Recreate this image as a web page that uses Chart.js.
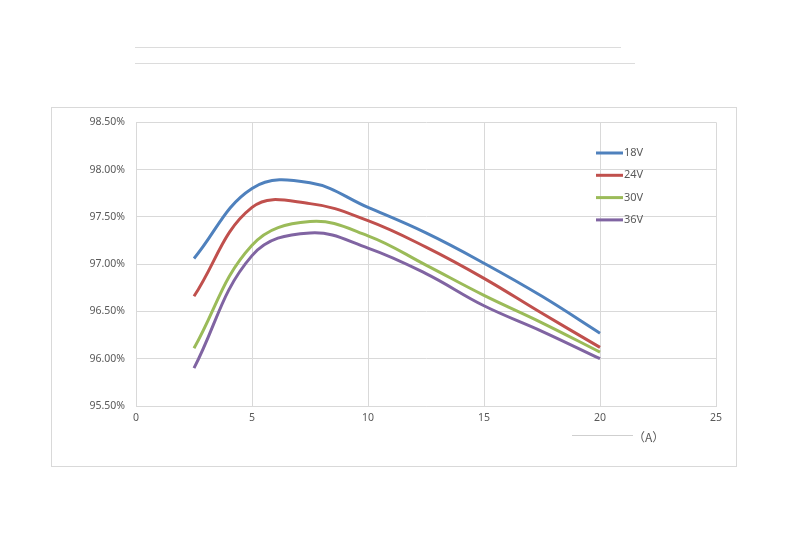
<!DOCTYPE html>
<html>
<head>
<meta charset="utf-8">
<script src="https://cdn.jsdelivr.net/npm/chart.js@4"></script>
<style>
  html, body { margin: 0; padding: 0; background: #fff; }
  body { width: 800px; height: 539px; position: relative; overflow: hidden; }
  .rule { position: absolute; height: 1px; background: #dcdcdc; }
  #box { position: absolute; left: 51px; top: 107px; width: 686px; height: 360px; border: 1px solid #d9d9d9; box-sizing: border-box; }
  #chart { position: absolute; left: 52px; top: 105px; }
  #unit { position: absolute; left: 633px; top: 428px; font: 12px "Noto Sans CJK SC", "Noto Sans", sans-serif; color: #595959; }
</style>
</head>
<body>
<div class="rule" style="left:135px; top:47px; width:486px;"></div>
<div class="rule" style="left:135px; top:63px; width:500px;"></div>
<div id="box"></div>
<canvas id="chart" width="684" height="362"></canvas>
<div class="rule" style="left:572px; top:435px; width:61px; background:#cfcfcf;"></div>
<div id="unit">（A）</div>
<script>
const currents = [2.5, 5, 7.5, 10, 12.5, 15, 17.5, 20];
const eff18V = [97.06, 97.80, 97.86, 97.60, 97.33, 97.01, 96.66, 96.27];
const eff24V = [96.66, 97.60, 97.64, 97.46, 97.18, 96.85, 96.48, 96.12];
const eff30V = [96.11, 97.20, 97.45, 97.30, 96.99, 96.67, 96.38, 96.07];
const eff36V = [95.90, 97.09, 97.33, 97.17, 96.90, 96.56, 96.29, 96.00];
const seriesNames = ["18V", "24V", "30V", "36V"];
const colors = ["#4F81BD", "#C0504D", "#9BBB59", "#8064A2"];

const textColor = "#595959";
const gridColor = "#d9d9d9";
const font = { family: "'Noto Sans', 'DejaVu Sans', sans-serif", size: 10.5 };

function toPoints(values) {
  return currents.map((x, i) => ({ x, y: values[i] }));
}

const legendPlugin = {
  id: "insideLegend",
  afterDatasetsDraw(chart) {
    const ctx = chart.ctx;
    ctx.save();
    ctx.font = "11px " + font.family;
    ctx.textBaseline = "middle";
    ctx.textAlign = "left";
    chart.data.datasets.forEach((ds, i) => {
      const y = 48 + i * 22.3;
      ctx.strokeStyle = ds.borderColor;
      ctx.lineWidth = 3;
      ctx.beginPath();
      ctx.moveTo(544, y);
      ctx.lineTo(571, y);
      ctx.stroke();
      ctx.fillStyle = textColor;
      ctx.fillText(ds.label, 572, y);
    });
    ctx.restore();
  }
};

new Chart(document.getElementById("chart"), {
  type: "line",
  data: {
    datasets: [eff18V, eff24V, eff30V, eff36V].map((values, i) => ({
      label: seriesNames[i],
      data: toPoints(values),
      borderColor: colors[i],
      backgroundColor: colors[i],
      borderWidth: 3,
      pointRadius: 0,
      tension: 0.4,
      fill: false
    }))
  },
  options: {
    responsive: false,
    animation: false,
    layout: { padding: { top: 11, right: 20, bottom: 0, left: 0 } },
    plugins: {
      legend: { display: false },
      tooltip: { enabled: false }
    },
    scales: {
      x: {
        type: "linear",
        min: 0,
        max: 25,
        ticks: { stepSize: 5, color: textColor, font, padding: 6 },
        grid: { color: gridColor, drawTicks: false },
        border: { color: gridColor },
        afterFit: (scale) => { scale.height = 61; }
      },
      y: {
        min: 95.5,
        max: 98.5,
        ticks: {
          stepSize: 0.5,
          color: textColor,
          font,
          padding: 11,
          callback: (value) => value.toFixed(2) + "%"
        },
        grid: { color: gridColor, drawTicks: false },
        border: { color: gridColor },
        afterFit: (scale) => { scale.width = 84; }
      }
    }
  },
  plugins: [legendPlugin]
});
</script>
</body>
</html>
